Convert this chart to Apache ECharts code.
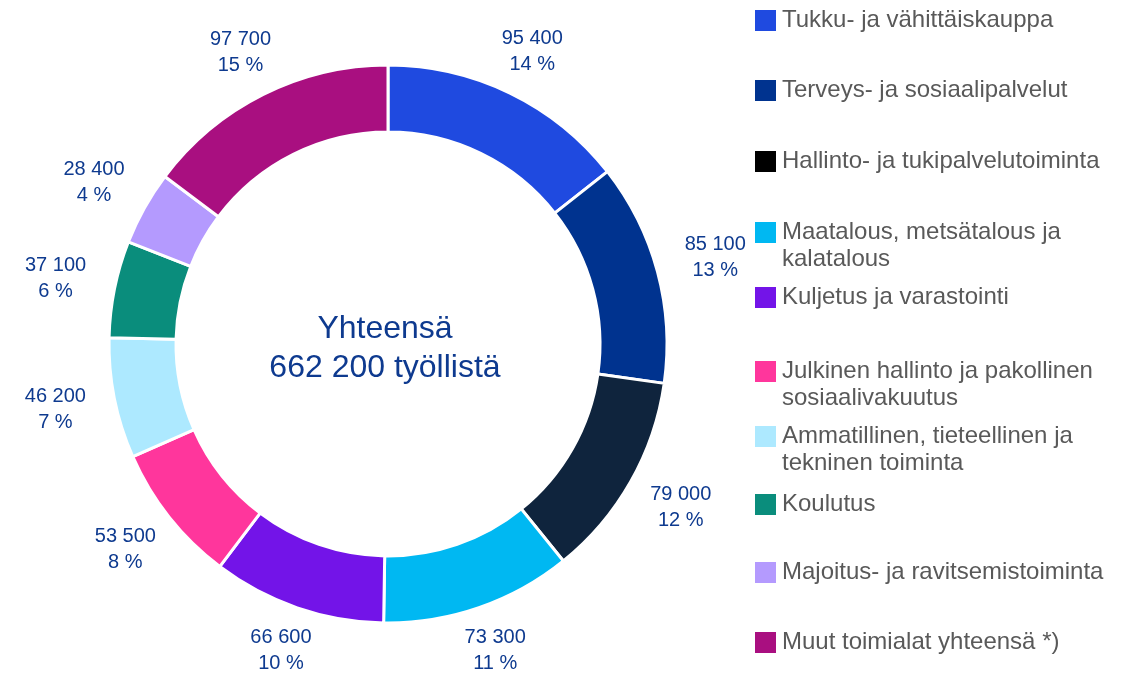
<!DOCTYPE html>
<html>
<head>
<meta charset="utf-8">
<title>Työlliset toimialoittain</title>
<script src="https://cdn.jsdelivr.net/npm/echarts@6/dist/echarts.min.js"></script>
<style>
    html, body { margin: 0; padding: 0; background: #fff; }
    #main { width: 1134px; height: 679px; }
</style>
</head>
<body>
<div id="main"></div>
<script type="text/javascript">
    // data
    var categories = [
        'Tukku- ja vähittäiskauppa',
        'Terveys- ja sosiaalipalvelut',
        'Hallinto- ja tukipalvelutoiminta',
        'Maatalous, metsätalous ja kalatalous',
        'Kuljetus ja varastointi',
        'Julkinen hallinto ja pakollinen sosiaalivakuutus',
        'Ammatillinen, tieteellinen ja tekninen toiminta',
        'Koulutus',
        'Majoitus- ja ravitsemistoiminta',
        'Muut toimialat yhteensä *)'
    ];
    var legendText = [
        'Tukku- ja vähittäiskauppa',
        'Terveys- ja sosiaalipalvelut',
        'Hallinto- ja tukipalvelutoiminta',
        'Maatalous, metsätalous ja\nkalatalous',
        'Kuljetus ja varastointi',
        'Julkinen hallinto ja pakollinen\nsosiaalivakuutus',
        'Ammatillinen, tieteellinen ja\ntekninen toiminta',
        'Koulutus',
        'Majoitus- ja ravitsemistoiminta',
        'Muut toimialat yhteensä *)'
    ];
    var values = [95400, 85100, 79000, 73300, 66600, 53500, 46200, 37100, 28400, 97700];
    var totalText = 'Yhteensä\n662 200 työllistä';

    var colors = ['#1F4AE0', '#00338F', '#0F243D', '#00B8F2', '#7314E8',
                  '#FF369C', '#ADE9FF', '#0A8D7C', '#B49AFE', '#A90F80'];

    // vertical centre of each legend swatch (layout only)
    var legendY = [20.5, 90.5, 161.5, 232, 297.5, 371.5, 436.5, 504.5, 572.5, 642.5];

    var FONT = 'Arial, "Liberation Sans", sans-serif';
    var LINE = 27;

    function fmt(v) {
        return String(v).replace(/\B(?=(\d{3})+(?!\d))/g, ' ');
    }

    var chart = echarts.init(document.getElementById('main'));

    // one legend per item; text padded with empty lines so the first line sits on the swatch
    var legends = categories.map(function (name, i) {
        var twoLine = legendText[i].indexOf('\n') >= 0;
        var shown = twoLine ? '\n' + legendText[i] : '\n' + legendText[i] + '\n';
        var item = { name: name, icon: 'rect' };
        if (i === 2) item.itemStyle = { color: '#000000' };
        return {
            left: 753,
            top: Math.round(legendY[i] - 1.5 * LINE),
            padding: 0,
            itemWidth: 23,
            itemHeight: 23,
            selectedMode: false,
            formatter: function () { return shown; },
            textStyle: { fontFamily: FONT, fontSize: 24, lineHeight: LINE, color: '#595959' },
            data: [item]
        };
    });

    var option = {
        animation: false,
        legend: legends,
        graphic: [{
            type: 'text',
            x: 385,
            y: 349,
            style: {
                text: totalText,
                fill: '#0E3A8F',
                fontFamily: FONT,
                fontSize: 32,
                lineHeight: 39,
                align: 'center',
                verticalAlign: 'middle'
            }
        }],
        series: [{
            type: 'pie',
            center: [388, 344],
            radius: [212, 279],
            startAngle: 90,
            clockwise: true,
            avoidLabelOverlap: false,
            silent: true,
            itemStyle: { borderColor: '#ffffff', borderWidth: 3 },
            label: {
                show: true,
                position: 'outside',
                fontFamily: FONT,
                fontSize: 20,
                lineHeight: 26,
                color: '#0E3A8F',
                formatter: function (p) {
                    return fmt(p.value) + '\n' + Math.round(p.percent) + ' %';
                }
            },
            labelLine: { show: true, length: 10, length2: 0, lineStyle: { opacity: 0 } },
            // centre each label just outside the ring along the slice's mid direction
            labelLayout: function (p) {
                var pts = p.labelLinePoints;
                if (!pts) return {};
                var x0 = pts[0][0], y0 = pts[0][1];
                var dx = pts[1][0] - x0, dy = pts[1][1] - y0;
                var len = Math.sqrt(dx * dx + dy * dy) || 1;
                dx /= len; dy /= len;
                var w = p.labelRect.width, h = p.labelRect.height;
                var gap = 30 - 12 * dy * dy;
                return {
                    x: x0 + dx * gap + dx * w / 2,
                    y: y0 + dy * gap + dy * h / 2,
                    align: 'center',
                    verticalAlign: 'middle'
                };
            },
            data: categories.map(function (name, i) {
                return { name: name, value: values[i], itemStyle: { color: colors[i] } };
            })
        }]
    };

    chart.setOption(option);
</script>
</body>
</html>
